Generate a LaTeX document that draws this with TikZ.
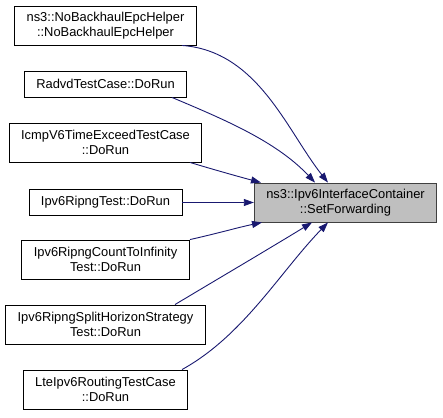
\documentclass[tikz,border=0pt]{standalone}
\usepackage{fontspec}
\setmainfont{Liberation Sans}
\usetikzlibrary{arrows.meta}
\definecolor{edgeblue}{HTML}{191970}
\definecolor{rootgray}{HTML}{BFBFBF}
\definecolor{rootborder}{HTML}{404040}
\begin{document}
\begin{tikzpicture}[x=1pt,y=-1pt,
  fn/.style={draw=black, line width=0.9pt, fill=white, align=center,
    inner xsep=12pt, inner ysep=0pt, font=\fontsize{12.9}{14.5}\selectfont},
  one/.style={fn, minimum height=26pt},
  two/.style={fn, minimum height=39pt},
  root/.style={two, fill=rootgray, draw=rootborder},
  call/.style={draw=edgeblue, line width=0.9pt, -{Triangle[length=10pt,width=7pt]}}]
\useasboundingbox (0,0) rectangle (443,417);
\node[two] (nb) at (105.5,25.5) {ns3::NoBackhaulEpcHelper\\::NoBackhaulEpcHelper};
\node[one] (radvd) at (105.5,84) {RadvdTestCase::DoRun};
\node[two] (icmp) at (105.5,142.5) {IcmpV6TimeExceedTestCase\\::DoRun};
\node[one] (ripng) at (105.5,202.5) {Ipv6RipngTest::DoRun};
\node[two] (cti) at (105.5,259.5) {Ipv6RipngCountToInfinity\\Test::DoRun};
\node[two] (split) at (105.5,324.5) {Ipv6RipngSplitHorizonStrategy\\Test::DoRun};
\node[two] (lte) at (105.5,389.5) {LteIpv6RoutingTestCase\\::DoRun};
\node[root] (tgt) at (345.5,202.5) {ns3::Ipv6InterfaceContainer\\::SetForwarding};

\draw[call] ([xshift=76.5pt]nb.south) .. controls (258,51) and (287,131) .. ([xshift=-17.5pt]tgt.north);
\draw[call] ([xshift=66.5pt]radvd.south) .. controls (223,119) and (276,141) .. ([xshift=-30.5pt]tgt.north);
\draw[call] ([xshift=84.5pt]icmp.south) .. controls (215,170) and (240,177) .. ([xshift=-84.5pt]tgt.north);
\draw[call] (ripng.east) -- (tgt.west);
\draw[call] ([xshift=84.5pt]cti.north) .. controls (215,234) and (240,227) .. ([xshift=-83.5pt]tgt.south);
\draw[call] ([xshift=69.5pt]split.north) .. controls (221,277) and (267,250) .. ([xshift=-33.5pt]tgt.south);
\draw[call] ([xshift=76.5pt]lte.north) .. controls (243.5,335.6) and (280,272) .. ([xshift=-17.5pt]tgt.south);
\end{tikzpicture}
\end{document}
